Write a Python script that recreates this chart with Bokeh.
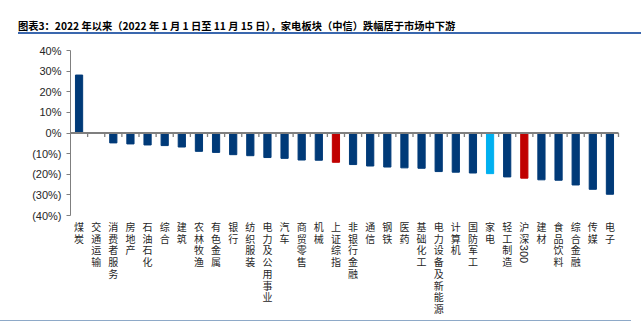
import math
from bokeh.plotting import figure
from bokeh.models import ColumnDataSource, Range1d, LinearAxis, FixedTicker, Div
from bokeh.layouts import column
from bokeh.core.properties import value
from bokeh.embed import file_html
from bokeh.resources import INLINE

title_text = "图表3：2022 年以来（2022 年 1 月 1 日至 11 月 15 日），家电板块（中信）跌幅居于市场中下游"

categories = ["煤炭", "交通运输", "消费者服务", "房地产", "石油石化", "综合", "建筑", "农林牧渔",
              "有色金属", "银行", "纺织服装", "电力及公用事业", "汽车", "商贸零售", "机械", "上证综指",
              "非银行金融", "通信", "钢铁", "医药", "基础化工", "电力设备及新能源", "计算机", "国防军工",
              "家电", "轻工制造", "沪深300", "建材", "食品饮料", "综合金融", "传媒", "电子"]
values = [28.1, -0.2, -4.8, -5.3, -5.8, -6.1, -6.8, -8.9, -9.4, -10.5, -11.0, -11.9, -12.3, -13.1,
          -13.2, -14.2, -15.3, -16.0, -16.5, -16.9, -17.1, -18.7, -19.0, -19.4, -19.7, -21.3, -21.9,
          -22.7, -22.9, -25.2, -27.3, -29.7]
highlight_index = ["上证综指", "沪深300"]
focus_sector = ["家电"]
y_ticks = [-40, -30, -20, -10, 0, 10, 20, 30, 40]

NAVY = "#003A78"
RED = "#C00000"
LIGHT = "#00B0F0"

def col_for(c):
    if c in focus_sector:
        return LIGHT
    if c in highlight_index:
        return RED
    return NAVY

n = len(categories)
xs = list(range(n))

# vertical (stacked) category labels: one glyph per character, ASCII runs rotated
CH_FIRST, CH_STEP = 11.0, 11.7
cx, cch, coff = [], [], []
rx, rtxt, roff = [], [], []
for i, c in enumerate(categories):
    k = 0
    j = 0
    while j < len(c):
        if c[j].isascii():
            run = ""
            while j < len(c) and c[j].isascii():
                run += c[j]
                j += 1
            rx.append(i)
            rtxt.append(run)
            roff.append(CH_FIRST + (k - 0.5) * CH_STEP + len(run) * 3.3)
            k += len(run) * 0.55
        else:
            cx.append(i)
            cch.append(c[j])
            coff.append(CH_FIRST + k * CH_STEP)
            k += 1
            j += 1

src = ColumnDataSource(dict(x=xs, top=values, color=[col_for(c) for c in categories]))
lab_src = ColumnDataSource(dict(x=cx, ch=cch, off=coff))
rot_src = ColumnDataSource(dict(x=rx, txt=rtxt, off=roff))

p = figure(width=641, height=286, output_backend="svg", toolbar_location=None,
           x_range=Range1d(-0.5, -0.5 + 571 / 17.125), y_range=Range1d(-90.91, 47.76),
           min_border_left=70, min_border_right=0, min_border_top=0, min_border_bottom=0,
           x_axis_type=None, y_axis_type=None, margin=0)
p.outline_line_color = None
p.xgrid.visible = False
p.ygrid.visible = False
p.background_fill_color = "white"
p.border_fill_color = "white"

yax = LinearAxis(ticker=FixedTicker(ticks=y_ticks), bounds=(min(y_ticks), max(y_ticks)))
yax.major_label_overrides = {t: (f"{t}%" if t >= 0 else f"({-t}%)") for t in y_ticks}
yax.axis_line_color = "#7F7F7F"
yax.major_tick_line_color = "#7F7F7F"
yax.major_tick_out = 4
yax.major_tick_in = 0
yax.minor_tick_line_color = None
yax.major_label_text_font = "Liberation Sans"
yax.major_label_text_font_size = "11px"
yax.major_label_text_color = "#262626"
yax.major_label_standoff = 5
p.add_layout(yax, "left")

p.vbar(x="x", top="top", bottom=0, width=0.42, color="color", source=src)

# zero axis line with boundary ticks
p.segment(x0=[-0.5], y0=[0], x1=[n - 0.5], y1=[0], line_color="#7F7F7F", line_width=2)
bx = [i + 0.5 for i in range(n)]
p.segment(x0=bx, y0=[0] * n, x1=bx, y1=[-1.9] * n, line_color="#7F7F7F", line_width=1.3)

p.text(x="x", y=-40, text="ch", source=lab_src, text_align="center", text_baseline="middle",
       y_offset="off", text_font=value("Noto Sans CJK SC"), text_font_size="10px",
       text_color="#262626")
p.text(x="x", y=-40, text="txt", source=rot_src, text_align="center", text_baseline="middle",
       y_offset="off", angle=-math.pi / 2, text_font=value("Liberation Sans"),
       text_font_size="11px", text_color="#262626")

title_div = Div(text=(
    '<div style="padding:19px 0 0 0;white-space:nowrap;font-size:12px;line-height:13px;">'
    '<span style="display:inline-block;vertical-align:top;font-family:\'Noto Sans CJK SC\';'
    'font-weight:bold;font-size:12px;line-height:13px;color:#000;transform:scale(0.855);'
    'transform-origin:0 50%;">' + title_text + '</span></div>'),
    width=623, height=34, margin=(0, 0, 0, 18),
    styles={"overflow": "hidden", "box-sizing": "border-box",
            "border-bottom": "2px solid #3A67AE"})
bottom_div = Div(text="", width=631, height=2, margin=0,
                 styles={"box-sizing": "border-box", "border-top": "1px solid #8EA9C8"})

layout = column(title_div, p, bottom_div, spacing=0)
open("out.html", "w").write(file_html(layout, INLINE))
